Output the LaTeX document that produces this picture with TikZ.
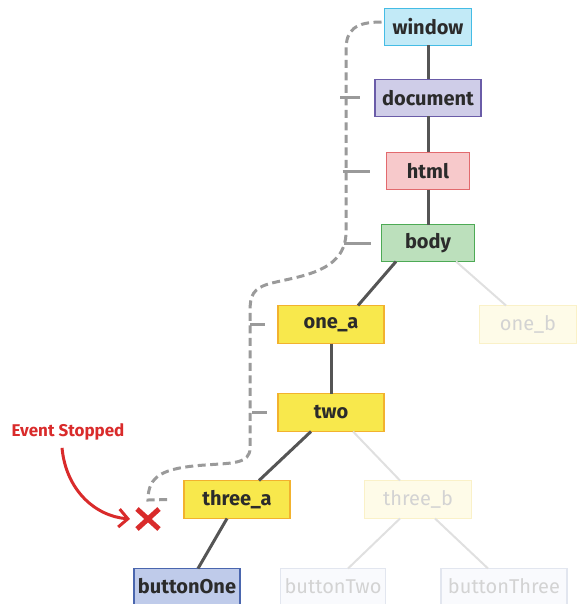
\documentclass[tikz,border=0pt]{standalone}
\usepackage{fontspec}
\setmainfont{Fira Sans}
\usetikzlibrary{arrows.meta,positioning,shapes.misc}
\definecolor{Ink}{HTML}{2B2B2B}
\definecolor{WinFill}{HTML}{C2EAF7}
\definecolor{WinLine}{HTML}{45BCE5}
\definecolor{DocFill}{HTML}{CFCDE8}
\definecolor{DocLine}{HTML}{6A5CA8}
\definecolor{HtmlFill}{HTML}{F7C9CB}
\definecolor{HtmlLine}{HTML}{E26A6E}
\definecolor{BodyFill}{HTML}{BCE0BC}
\definecolor{BodyLine}{HTML}{4DAA55}
\definecolor{YelFill}{HTML}{F8E84C}
\definecolor{YelLine}{HTML}{F2B22E}
\definecolor{BtnFill}{HTML}{BFCBEA}
\definecolor{BtnLine}{HTML}{4A66AE}
\definecolor{FadeYelFill}{HTML}{FEFBE8}
\definecolor{FadeYelLine}{HTML}{FAF1C8}
\definecolor{FadeBtnFill}{HTML}{F9FAFD}
\definecolor{FadeBtnLine}{HTML}{E2E6EF}
\definecolor{FadeText}{HTML}{D3D3D3}
\definecolor{Edge}{HTML}{555555}
\definecolor{FadeEdge}{HTML}{E0E0E0}
\definecolor{Trail}{HTML}{9A9A9A}
\definecolor{Stop}{HTML}{D92B2B}

\begin{document}
\begin{tikzpicture}[
  x=1pt,y=-1pt,
  elem/.style={draw,line width=1.6pt,outer sep=0pt,minimum height=37pt,inner sep=0pt,font=\fontsize{20}{22}\selectfont\bfseries,text=Ink},
  winbox/.style={elem,draw=WinLine,fill=WinFill,minimum width=87pt},
  docbox/.style={elem,draw=DocLine,fill=DocFill,minimum width=106pt},
  htmlbox/.style={elem,draw=HtmlLine,fill=HtmlFill,minimum width=83pt},
  bodybox/.style={elem,draw=BodyLine,fill=BodyFill,minimum width=93pt},
  hit/.style={elem,draw=YelLine,fill=YelFill,minimum width=106pt,minimum height=38pt},
  miss/.style={elem,draw=FadeYelLine,fill=FadeYelFill,minimum width=106pt,minimum height=38pt,text=FadeText,font=\fontsize{20}{22}\selectfont},
  btn/.style={elem,draw=BtnLine,fill=BtnFill,minimum width=106pt,minimum height=36pt},
  fadebtn/.style={elem,draw=FadeBtnLine,fill=FadeBtnFill,minimum height=36pt,text=FadeText,font=\fontsize{20}{22}\selectfont},
  link/.style={draw=Edge,line width=3pt},
  fadelink/.style={draw=FadeEdge,line width=2pt},
  trail/.style={draw=Trail,line width=3pt,dash pattern=on 8pt off 4.5pt},
  tick/.style={draw=Trail,line width=3pt},
  stoparrow/.style={draw=Stop,line width=3pt,-{Straight Barb[length=9pt,width=18pt,line width=3pt]}}
]
\useasboundingbox (0,0) rectangle (577,604);
% main chain
\node[winbox] (w) at (428,27) {window};
\node[docbox,below=34pt of w] (d) {document};
\node[htmlbox,below=36pt of d] (h) {html};
\node[bodybox,below=35pt of h] (b) {body};
\node[hit,below=44pt of b,xshift=-97pt] (oa) {one\_a};
\node[miss,below=44pt of b,xshift=100pt,minimum width=97pt] (ob) {one\_b};
\node[hit,below=50pt of oa] (two) {two};
\node[hit,below=49pt of two,xshift=-94pt] (ta) {three\_a};
\node[miss,below=49pt of two,xshift=87pt,minimum width=107pt] (tb) {three\_b};
\node[btn,below=50pt of ta,xshift=-50pt] (bo) {buttonOne};
\node[fadebtn,below=50pt of tb,xshift=-85pt,minimum width=105pt] (btw) {buttonTwo};
\node[fadebtn,below=50pt of tb,xshift=86pt,minimum width=126pt] (bth) {buttonThree};

\draw[link] (w) -- (d);
\draw[link] (d) -- (h);
\draw[link] (h) -- (b);
\draw[link] ([xshift=-32pt]b.south) -- ([xshift=27pt]oa.north);
\draw[fadelink] ([xshift=28pt]b.south) -- ([xshift=-22pt]ob.north);
\draw[link] (oa) -- (two);
\draw[link] ([xshift=-20pt]two.south) -- ([xshift=22pt]ta.north);
\draw[fadelink] ([xshift=22pt]two.south) -- ([xshift=-18pt]tb.north);
\draw[link] ([xshift=-10pt]ta.south) -- ([xshift=11pt]bo.north);
\draw[fadelink] ([xshift=-18pt]tb.south) -- ([xshift=15pt]btw.north);
\draw[fadelink] ([xshift=17pt]tb.south) -- ([xshift=-16pt]bth.north);

% capture path
\draw[trail] ([xshift=-3pt,yshift=5pt]w.west) .. controls (355,22) and (346,30) .. (346,50)
  -- (346,232) .. controls (346,272) and (300,276) .. (272,283)
  .. controls (252,288) and (250,296) .. (250,312) -- (250,448)
  .. controls (250,464) and (232,463) .. (205,465)
  .. controls (162,468) and (148,476) .. (148,500) -- ([xshift=-14pt]ta.west);
\draw[tick] ([xshift=-35pt]d.west) -- ([xshift=-15pt]d.west);
\draw[tick] ([xshift=-44pt]h.west) -- ([xshift=-17pt]h.west);
\draw[tick] ([xshift=-38pt]b.west) -- ([xshift=-11pt]b.west);
\draw[tick] ([xshift=-28pt]oa.west) -- ([xshift=-13pt]oa.west);
\draw[tick] ([xshift=-26pt]two.west) -- ([xshift=-11pt]two.west);

% stop marker
\node[font=\fontsize{17}{19}\selectfont\bfseries,text=Stop] (ev) at (68,432) {Event Stopped};
\node[cross out,draw=Stop,line width=5pt,minimum width=17pt,minimum height=15pt,inner sep=0pt] (stop) at (148,519) {};
\draw[stoparrow] ([xshift=-6pt,yshift=-4pt]ev.south) .. controls (66,490) and (95,516) .. ([xshift=-7pt]stop.west);
\end{tikzpicture}
\end{document}
